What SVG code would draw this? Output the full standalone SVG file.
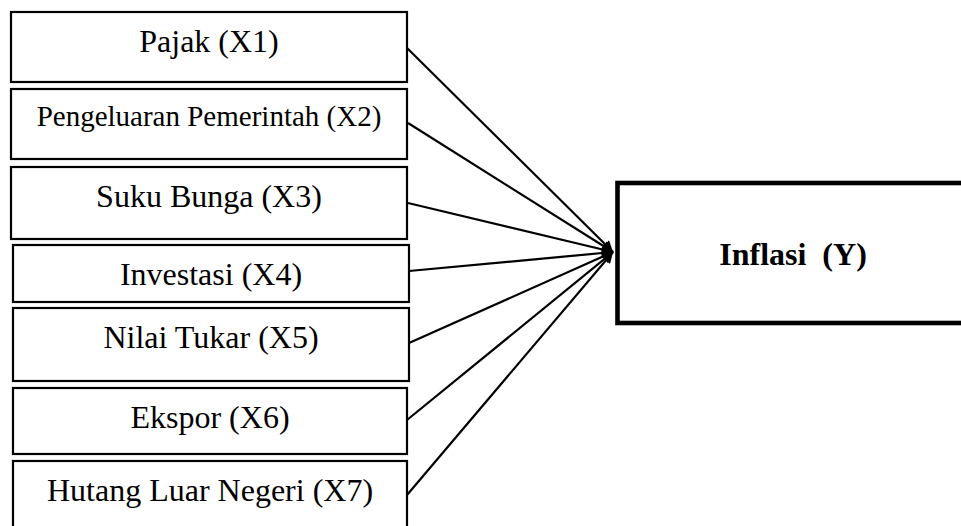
<svg xmlns="http://www.w3.org/2000/svg" width="961" height="526" viewBox="0 0 961 526">
  <style>
    .box { fill: #ffffff; stroke: #000000; stroke-width: 2.2; }
    .ybox { fill: #ffffff; stroke: #000000; stroke-width: 4.6; }
    .lbl { font-family: "Liberation Serif", "Times New Roman", serif; font-size: 32px; fill: #000000; text-anchor: middle; }
    .sm { font-size: 29px; }
    .bold { font-weight: bold; }
    .conn { stroke: #000000; stroke-width: 2.2; fill: none; }
  </style>
  <defs>
    <marker id="arrow" viewBox="0 0 10 10" refX="10" refY="5" markerWidth="6" markerHeight="5" markerUnits="strokeWidth" orient="auto">
      <path d="M0,0 L10,5 L0,10 Z" fill="#000000"/>
    </marker>
  </defs>
  <rect width="961" height="526" fill="#ffffff"/>

  <g id="node-x1">
    <rect class="box" x="11" y="12" width="396" height="70"/>
    <text class="lbl" x="209" y="52">Pajak (X1)</text>
  </g>
  <g id="node-x2">
    <rect class="box" x="11" y="89" width="396" height="70"/>
    <text class="lbl sm" x="209" y="126">Pengeluaran Pemerintah (X2)</text>
  </g>
  <g id="node-x3">
    <rect class="box" x="11" y="167" width="396" height="72"/>
    <text class="lbl" x="209" y="207">Suku Bunga (X3)</text>
  </g>
  <g id="node-x4">
    <rect class="box" x="13" y="245" width="396" height="57"/>
    <text class="lbl" x="211" y="285">Investasi (X4)</text>
  </g>
  <g id="node-x5">
    <rect class="box" x="13" y="308" width="396" height="73"/>
    <text class="lbl" x="211" y="348">Nilai Tukar (X5)</text>
  </g>
  <g id="node-x6">
    <rect class="box" x="13" y="388" width="394" height="66"/>
    <text class="lbl" x="210" y="428">Ekspor (X6)</text>
  </g>
  <g id="node-x7">
    <rect class="box" x="13" y="461" width="394" height="80"/>
    <text class="lbl" x="210" y="501">Hutang Luar Negeri (X7)</text>
  </g>
  <g id="node-y">
    <rect class="ybox" x="617.5" y="183" width="360" height="140"/>
    <text class="lbl bold" x="793" y="265" xml:space="preserve">Inflasi  (Y)</text>
  </g>

  <g id="connectors">
    <line class="conn" x1="407" y1="48" x2="613" y2="252" marker-end="url(#arrow)"/>
    <line class="conn" x1="408" y1="123" x2="613" y2="252" marker-end="url(#arrow)"/>
    <line class="conn" x1="408" y1="203" x2="613" y2="252" marker-end="url(#arrow)"/>
    <line class="conn" x1="409" y1="271" x2="613" y2="252" marker-end="url(#arrow)"/>
    <line class="conn" x1="409" y1="343" x2="613" y2="252" marker-end="url(#arrow)"/>
    <line class="conn" x1="407" y1="420" x2="613" y2="252" marker-end="url(#arrow)"/>
    <line class="conn" x1="407" y1="495" x2="613" y2="252" marker-end="url(#arrow)"/>
  </g>
</svg>
